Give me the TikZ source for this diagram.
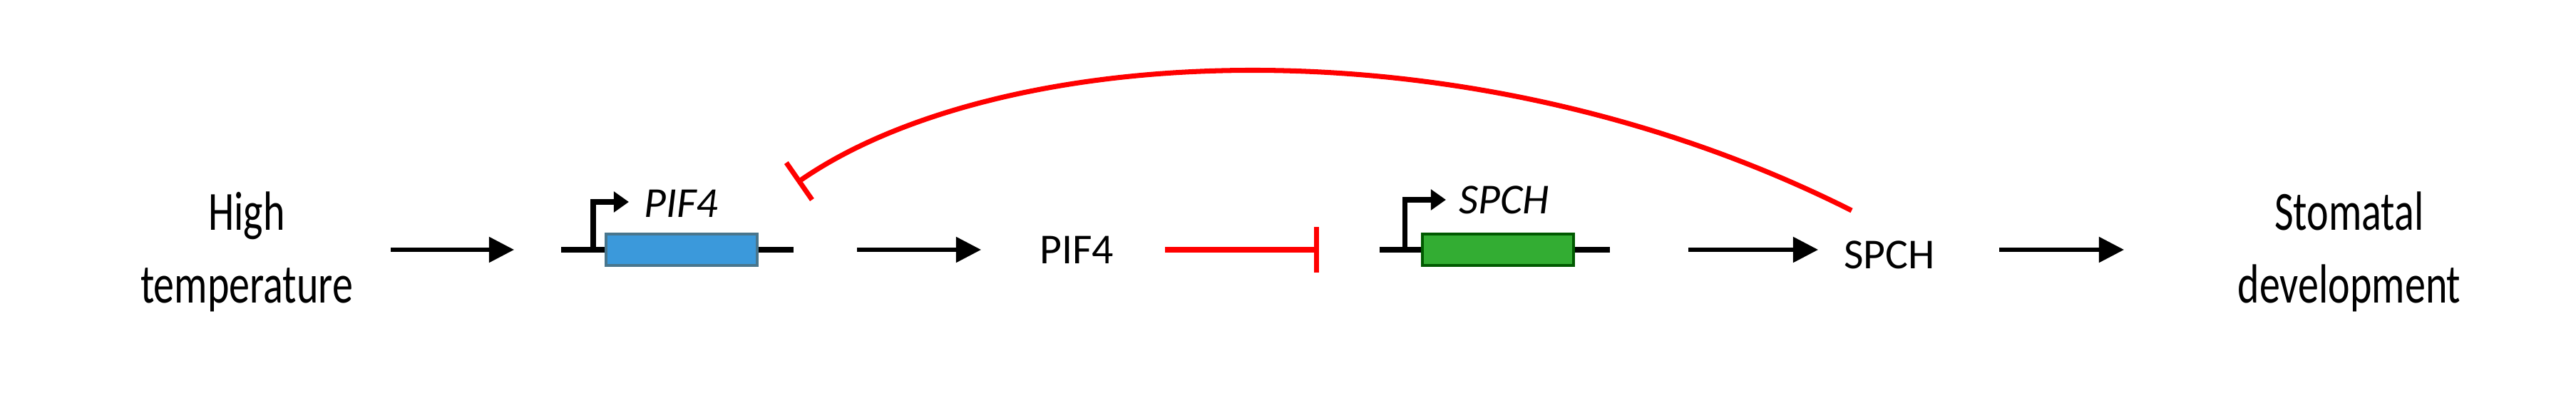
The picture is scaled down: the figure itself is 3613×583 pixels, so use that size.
\documentclass[tikz,border=0pt]{standalone}
\usepackage{fontspec}
\setmainfont{Carlito}
\newfontfamily\narrowfont[FakeStretch=0.75]{Carlito}
\usetikzlibrary{arrows.meta}

\begin{document}
\begin{tikzpicture}[x=0.01cm,y=-0.01cm,
  big/.style={align=center,font=\narrowfont\fontsize{22}{29}\selectfont},
  small/.style={font=\fontsize{17}{20}\selectfont},
  act/.style={line width=1.5pt,-{Triangle[length=10pt,width=10pt]}},
  inh/.style={red,line width=2pt,-{Bar[width=18pt]}},
  gene/.style={draw,line width=1pt,minimum width=2.12cm,minimum height=0.44cm,inner sep=0pt},
  dna/.style={line width=2.2pt},
  prom/.style={line width=2pt,-{Triangle[length=6pt,width=8pt]}}]
  \useasboundingbox (0,0) rectangle (3613,583);

  % texts
  \node [big] (ht) at (346,353) {High\\temperature};
  \node [small] (pif) at (1510,350) {PIF4};
  \node [small] (spch) at (2650,357) {SPCH};
  \node [big] (sd) at (3295,353) {Stomatal\\development};

  % genes
  \draw [dna] (787,350) coordinate (g1s) -- (1113,350) coordinate (g1e);
  \node [gene,fill=cyan!70!blue!80,draw=cyan!50!black] (g1) at (956,350) {};
  \draw [prom] (832,352) |- (882,283);
  \node [small,font=\fontsize{17}{20}\selectfont\itshape] (g1l) at (955,285) {PIF4};

  \draw [dna] (1935,350) coordinate (g2s) -- (2258,350) coordinate (g2e);
  \node [gene,fill=green!60!black!80,draw=green!35!black] (g2) at (2101,350) {};
  \draw [prom] (1970,352) |- (2028,280);
  \node [small,font=\fontsize{17}{20}\selectfont\itshape] (g2l) at (2110,280) {SPCH};

  % connectors
  \coordinate (a1s) at (548,350);
  \coordinate (a1) at (721,350);
  \coordinate (a2) at (1376,350);
  \coordinate (a3) at (1850,350);
  \coordinate (a4) at (2550,350);
  \coordinate (a5s) at (2804,350);
  \coordinate (a5) at (2979,350);
  \coordinate (b1) at (1118,256);
  \draw [act] (a1s) -- (a1);
  \draw [act] (g1e) ++(89,0) -- (a2);
  \draw [inh] (pif.east) ++(60,0) -- (a3);
  \draw [act] (g2e) ++(110,0) -- (a4);
  \draw [act] (a5s) -- (a5);
  \draw [inh] (2597,295) .. controls (2050,20) and (1400,60) .. (b1);
\end{tikzpicture}
\end{document}
